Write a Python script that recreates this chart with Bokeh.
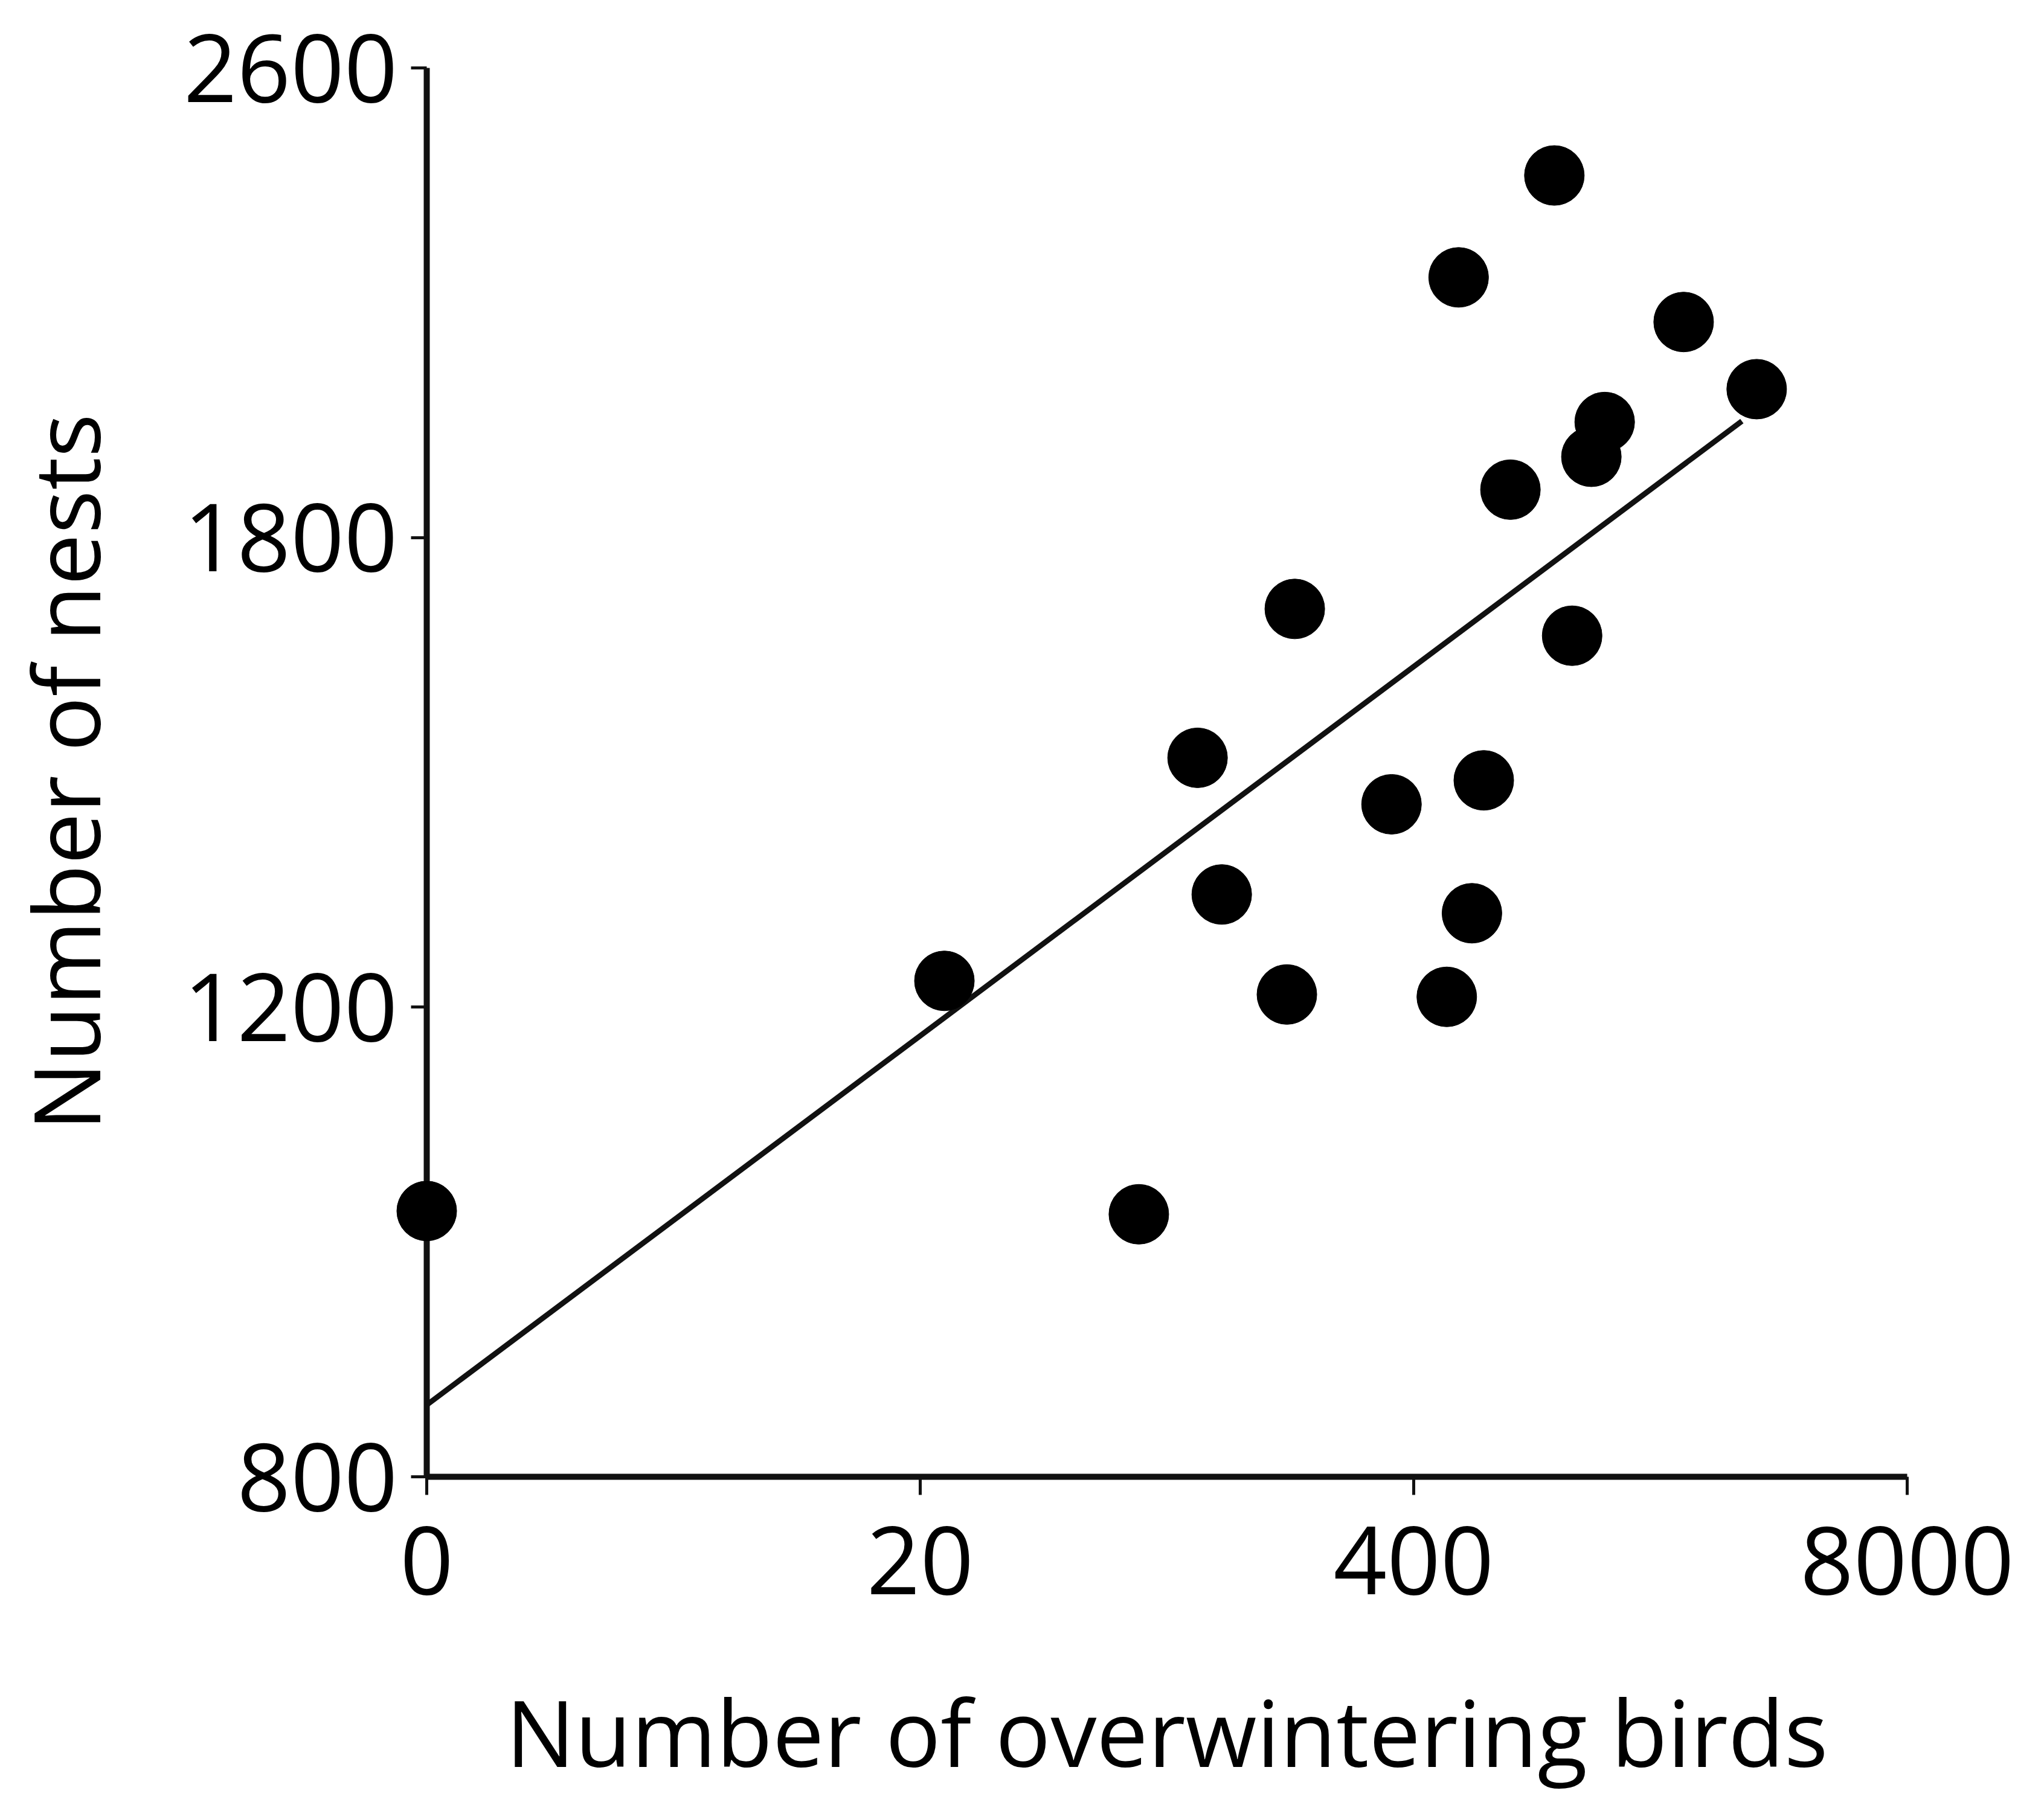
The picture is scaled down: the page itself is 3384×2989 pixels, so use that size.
from bokeh.plotting import figure
from bokeh.models import FixedTicker, Range1d
from bokeh.embed import file_html
from bokeh.resources import INLINE

# Axis positions (equally spaced, non-linear labels as in the original)
x_ticks = [0, 1, 2, 3]
x_tick_labels = ["0", "20", "400", "8000"]
y_ticks = [0, 1, 2, 3]
y_tick_labels = ["800", "1200", "1800", "2600"]

# Scatter points, in axis tick units
birds_pos = [0.000, 1.049, 1.443, 1.562, 1.611, 1.743, 1.759, 1.955, 2.067, 2.091,
             2.118, 2.142, 2.196, 2.285, 2.321, 2.360, 2.387, 2.547, 2.695]
nests_pos = [0.566, 1.056, 0.559, 1.531, 1.240, 1.027, 1.848, 1.432, 1.022, 2.554,
             1.200, 1.483, 2.102, 2.771, 1.791, 2.172, 2.246, 2.459, 2.316]

# Fitted line end points
fit_x = [0.0, 2.665]
fit_y = [0.153, 2.248]

FONT = "Open Sans"
W, H = 3368, 2973

p = figure(width=W, height=H, output_backend="svg", toolbar_location=None,
           x_range=Range1d(0, 3), y_range=Range1d(0, 3),
           min_border_left=700, min_border_right=211,
           min_border_top=112, min_border_bottom=528)

p.background_fill_color = "white"
p.border_fill_color = "white"
p.outline_line_color = None
p.grid.visible = False

p.line(fit_x, fit_y, line_color="#111111", line_width=9, level="overlay")
p.scatter(birds_pos, nests_pos, size=99, marker="circle",
          fill_color="black", line_color="black", level="overlay")

for ax, ticks, labels in ((p.xaxis[0], x_ticks, x_tick_labels),
                          (p.yaxis[0], y_ticks, y_tick_labels)):
    ax.ticker = FixedTicker(ticks=ticks)
    ax.major_label_overrides = {t: l for t, l in zip(ticks, labels)}
    ax.minor_tick_line_color = None
    ax.axis_line_width = 10
    ax.axis_line_color = "#111111"
    ax.major_tick_line_width = 5
    ax.major_tick_line_color = "#111111"
    ax.major_tick_in = 0
    ax.major_label_text_font = FONT
    ax.major_label_text_font_size = "155px"
    ax.major_label_text_color = "black"
    ax.axis_label_text_font = FONT
    ax.axis_label_text_font_size = "152px"
    ax.axis_label_text_font_style = "normal"
    ax.axis_label_text_color = "black"
    ax.bounds = (0, 3)

p.xaxis.axis_label = "Number of overwintering birds"
p.yaxis.axis_label = "Number of nests"
p.xaxis.major_tick_out = 30
p.yaxis.major_tick_out = 26
p.xaxis.major_label_standoff = 52
p.yaxis.major_label_standoff = 22
p.xaxis.axis_label_standoff = 121
p.yaxis.axis_label_standoff = 90

open("out.html", "w").write(file_html(p, INLINE))
